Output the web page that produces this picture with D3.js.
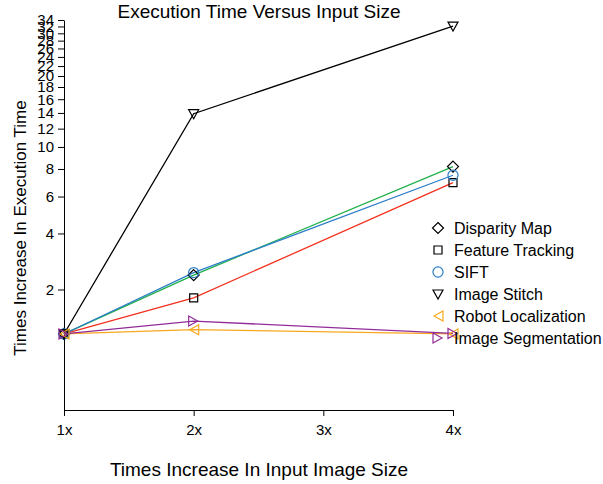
<!DOCTYPE html>
<html>
<head>
<meta charset="utf-8">
<script src="https://cdn.jsdelivr.net/npm/d3@7"></script>
<style>
  body { margin: 0; background: #fff; }
  text { font-family: "Liberation Sans", Arial, sans-serif; }
</style>
</head>
<body>
<svg></svg>
<script>
let w = 603;
let h = 484;

// data
var inputSizes = [1, 2, 4];
var xTicks = [1, 2, 3, 4];
var xTickLabels = ["1x", "2x", "3x", "4x"];
var yTicks = [2, 4, 6, 8, 10, 12, 14, 16, 18, 20, 22, 24, 26, 28, 30, 32, 34];

var seriesNames = ["Disparity Map", "Feature Tracking", "SIFT", "Image Stitch", "Robot Localization", "Image Segmentation"];
var disparityMap = [1, 2.42, 8.2];
var featureTracking = [1, 1.78, 6.95];
var sift = [1, 2.5, 7.5];
var imageStitch = [1, 13.9, 32.1];
var robotLocalization = [1, 1.08, 1.0];
var imageSegmentation = [1, 1.25, 1.01];

var lineColors = ["#1fb04a", "#f2311f", "#2b7ec7", "#000000", "#f8a81e", "#922c98"];
var markerColors = ["#000000", "#000000", "#2b7ec7", "#000000", "#f8a81e", "#922c98"];
var markerTypes = ["diamond", "square", "circle", "down", "left", "right"];

var series = [disparityMap, featureTracking, sift, imageStitch, robotLocalization, imageSegmentation]
  .map(function (vals, i) {
    return { name: seriesNames[i], values: vals, line: lineColors[i], mark: markerColors[i], type: markerTypes[i] };
  });

var svg = d3.select("svg").attr("width", w).attr("height", h);

// scales: y is log(1 + v)
var x = d3.scaleLinear().domain([1, 4]).range([64, 453]);
var y = d3.scaleSymlog().constant(1).domain([0, 34]).range([410, 20]);

// axes
svg.append("g")
  .attr("transform", "translate(64,0)")
  .call(d3.axisLeft(y).tickValues(yTicks).tickSizeOuter(0).tickSizeInner(6).tickPadding(4));

svg.append("g")
  .attr("transform", "translate(0,410)")
  .call(d3.axisBottom(x).tickValues(xTicks).tickFormat(function (d, i) { return xTickLabels[i]; })
    .tickSizeOuter(0).tickSizeInner(6).tickPadding(8));

svg.selectAll(".tick text").attr("font-size", 15).attr("fill", "#000")
  .style("font-family", "'Liberation Sans', Arial, sans-serif");
svg.selectAll(".domain, .tick line").attr("stroke", "#000");

// lines
var line = d3.line()
  .x(function (d, i) { return x(inputSizes[i]); })
  .y(function (d) { return y(d); });

svg.append("g").selectAll("path")
  .data(series)
  .enter()
  .append("path")
  .attr("d", function (d) { return line(d.values); })
  .attr("fill", "none")
  .attr("stroke", function (d) { return d.line; })
  .attr("stroke-width", 1.3);

// marker shapes
function markerPath(type) {
  if (type === "diamond") return "M0,-5.5L5.5,0L0,5.5L-5.5,0Z";
  if (type === "square") return "M-4,-4H4V4H-4Z";
  if (type === "circle") return d3.symbol(d3.symbolCircle, 80)();
  if (type === "down") return "M-5,-4H5L0,5Z";
  if (type === "left") return "M-4,0L5,-5V5Z";
  if (type === "right") return "M4,0L-5,-5V5Z";
}

series.forEach(function (s) {
  svg.append("g").selectAll("path")
    .data(s.values)
    .enter()
    .append("path")
    .attr("transform", function (d, i) { return "translate(" + x(inputSizes[i]) + "," + y(d) + ")"; })
    .attr("d", markerPath(s.type))
    .attr("fill", "none")
    .attr("stroke", s.mark)
    .attr("stroke-width", 1.2);
});

// legend
var legend = svg.append("g").selectAll("g")
  .data(series)
  .enter()
  .append("g")
  .attr("transform", function (d, i) { return "translate(438," + (228 + i * 22) + ")"; });

legend.append("path")
  .attr("d", function (d) { return markerPath(d.type); })
  .attr("fill", "none")
  .attr("stroke", function (d) { return d.mark; })
  .attr("stroke-width", 1.2);

legend.append("text")
  .attr("x", 16)
  .attr("dy", "0.35em")
  .attr("font-size", 16)
  .text(function (d) { return d.name; });

// titles
svg.append("text")
  .attr("x", 259).attr("y", 18)
  .attr("text-anchor", "middle")
  .attr("font-size", 19)
  .text("Execution Time Versus Input Size");

svg.append("text")
  .attr("x", 259).attr("y", 476)
  .attr("text-anchor", "middle")
  .attr("font-size", 19)
  .text("Times Increase In Input Image Size");

svg.append("text")
  .attr("transform", "translate(26,228) rotate(-90)")
  .attr("text-anchor", "middle")
  .attr("font-size", 17)
  .text("Times Increase In Execution Time");
</script>
</body>
</html>
